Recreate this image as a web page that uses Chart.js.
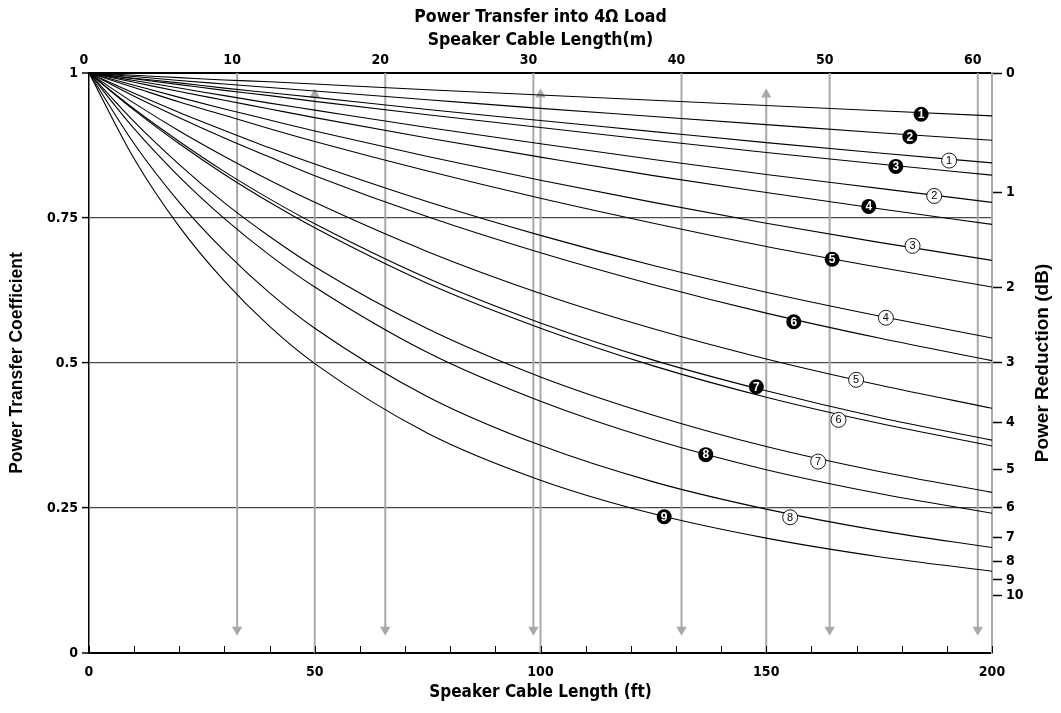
<!DOCTYPE html>
<html><head><meta charset="utf-8">
<script src="https://cdn.jsdelivr.net/npm/chart.js@4.4.0/dist/chart.umd.min.js"></script>
<style>html,body{margin:0;padding:0;background:#fff;}canvas{display:block;}</style>
</head><body>
<canvas id="c" width="1061" height="713"></canvas>
<script>
// ---------- DATA ----------
const ftSamples = [0, 10, 20, 30, 40, 50, 75, 100, 125, 150, 175, 200];
// black (filled) numbered curves
const curveB1 = [1, .996, .992, .988, .985, .981, .971, .962, .953, .944, .935, .926];
const curveB2 = [1, .994, .987, .981, .975, .969, .954, .939, .925, .911, .897, .884];
const curveB3 = [1, .990, .980, .970, .961, .951, .928, .906, .884, .863, .843, .824];
const curveB4 = [1, .984, .968, .953, .938, .923, .888, .855, .823, .794, .766, .739];
const curveB5 = [1, .975, .950, .927, .904, .882, .831, .784, .741, .701, .665, .631];
const curveB6 = [1, .960, .923, .888, .855, .823, .752, .690, .635, .586, .543, .504];
const curveB7 = [1, .938, .882, .830, .783, .740, .646, .569, .505, .452, .406, .367];
const curveB8 = [1, .904, .821, .749, .686, .631, .518, .434, .368, .316, .275, .241];
const curveB9 = [1, .852, .735, .641, .563, .499, .379, .298, .240, .198, .166, .141];
// white (outlined) numbered curves
const curveW1 = [1, .991, .983, .974, .966, .958, .937, .918, .899, .880, .862, .845];
const curveW2 = [1, .987, .974, .961, .948, .936, .906, .878, .851, .825, .801, .777];
const curveW3 = [1, .979, .958, .938, .919, .900, .856, .815, .777, .741, .708, .677];
const curveW4 = [1, .965, .932, .901, .871, .843, .778, .720, .668, .622, .581, .543];
const curveW5 = [1, .948, .900, .856, .815, .777, .692, .620, .559, .507, .462, .422];
const curveW6 = [1, .936, .878, .825, .777, .733, .637, .560, .495, .441, .396, .357];
const curveW7 = [1, .916, .842, .776, .718, .666, .559, .476, .410, .356, .313, .277];
const curveW8 = [1, .878, .777, .693, .621, .560, .442, .358, .295, .248, .211, .182];

// curve markers: number, position along cable (ft), coefficient
const blackMarkNums = ['1', '2', '3', '4', '5', '6', '7', '8', '9'];
const blackMarkFt   = [184.3, 181.8, 178.7, 172.7, 164.6, 156.1, 147.8, 136.6, 127.4];
const blackMarkVal  = [.929, .890, .839, .770, .679, .571, .459, .342, .235];
const whiteMarkNums = ['1', '2', '3', '4', '5', '6', '7', '8'];
const whiteMarkFt   = [190.5, 187.2, 182.4, 176.5, 169.9, 166.0, 161.5, 155.3];
const whiteMarkVal  = [.849, .788, .702, .578, .471, .402, .330, .234];

// axes
const ftTicks = [0, 50, 100, 150, 200];
const ftTickLabels = ['0', '50', '100', '150', '200'];
const ftMinorTicks = [0, 10, 20, 30, 40, 50, 60, 70, 80, 90, 100, 110, 120, 130, 140, 150, 160, 170, 180, 190, 200];
const meterTicks = [0, 10, 20, 30, 40, 50, 60];
const meterTickLabels = ['0', '10', '20', '30', '40', '50', '60'];
const yTicks = [0, 0.25, 0.5, 0.75, 1];
const yTickLabels = ['0', '0.25', '0.5', '0.75', '1'];
const dbTicks = [0, 1, 2, 3, 4, 5, 6, 7, 8, 9, 10];
const dbTickLabels = ['0', '1', '2', '3', '4', '5', '6', '7', '8', '9', '10'];
const meterArrowLines = [10, 20, 30, 40, 50, 60]; // grey lines with down arrows (m)
const footArrowLines = [50, 100, 150];           // grey lines with up arrows (ft)

const FT_MAX = 200;
const M_MAX = 200 * 0.3048; // same span expressed in metres

// ---------- STYLE ----------
const GREY = '#a9a9a9';
const NARROW = "'Liberation Sans Narrow', 'DejaVu Sans Condensed', 'Liberation Sans', Arial, sans-serif";
const WIDE = "'Liberation Sans', Arial, sans-serif";
const DOWN_ARROW_END = 0.04;
const UP_ARROW_END = 0.963;

const curves = [curveB1, curveB2, curveW1, curveB3, curveW2, curveB4, curveW3, curveB5, curveW4,
                curveB6, curveW5, curveB7, curveW6, curveW7, curveB8, curveW8, curveB9];

const datasets = [];
curves.forEach(c => datasets.push({
  data: ftSamples.map((x, i) => ({x, y: c[i]})),
  xAxisID: 'x', yAxisID: 'y',
  borderColor: '#000', borderWidth: 1.1, pointRadius: 0,
  cubicInterpolationMode: 'monotone', fill: false, order: 0
}));
meterArrowLines.forEach(m => datasets.push({
  data: [{x: m, y: 1}, {x: m, y: DOWN_ARROW_END}],
  xAxisID: 'xTop', yAxisID: 'y',
  borderColor: GREY, borderWidth: 2,
  pointRadius: [0, 6], pointStyle: 'triangle', pointRotation: 180,
  pointBackgroundColor: GREY, pointBorderColor: GREY, pointBorderWidth: 0, order: 2
}));
footArrowLines.forEach(f => datasets.push({
  data: [{x: f, y: 0}, {x: f, y: UP_ARROW_END}],
  xAxisID: 'x', yAxisID: 'y',
  borderColor: GREY, borderWidth: 2,
  pointRadius: [0, 6], pointStyle: 'triangle', pointRotation: 0,
  pointBackgroundColor: GREY, pointBorderColor: GREY, pointBorderWidth: 0, order: 2
}));

const decor = {
  id: 'decor',
  afterDatasetsDraw(chart) {
    const {ctx, chartArea: a, scales: {x, y}} = chart;
    ctx.save();
    const r = 7.5;
    blackMarkNums.forEach((n, i) => {
      const px = x.getPixelForValue(blackMarkFt[i]), py = y.getPixelForValue(blackMarkVal[i]);
      ctx.beginPath(); ctx.arc(px, py, r, 0, Math.PI * 2); ctx.fillStyle = '#000'; ctx.fill();
      ctx.fillStyle = '#fff'; ctx.font = 'bold 12px ' + WIDE; ctx.textAlign = 'center'; ctx.textBaseline = 'middle';
      ctx.fillText(n, px, py + 0.5);
    });
    whiteMarkNums.forEach((n, i) => {
      const px = x.getPixelForValue(whiteMarkFt[i]), py = y.getPixelForValue(whiteMarkVal[i]);
      ctx.beginPath(); ctx.arc(px, py, r, 0, Math.PI * 2); ctx.fillStyle = '#fff'; ctx.fill();
      ctx.lineWidth = 0.9; ctx.strokeStyle = '#000'; ctx.stroke();
      ctx.fillStyle = '#000'; ctx.font = '11px ' + WIDE; ctx.textAlign = 'center'; ctx.textBaseline = 'middle';
      ctx.fillText(n, px, py + 0.5);
    });
    ctx.strokeStyle = '#000'; ctx.lineWidth = 1;
    ftMinorTicks.forEach(v => {
      const px = Math.round(x.getPixelForValue(v)) + 0.5;
      ctx.beginPath(); ctx.moveTo(px, a.bottom); ctx.lineTo(px, a.bottom - 7); ctx.stroke();
    });
    ctx.restore();
  },
  afterDraw(chart) {
    const {ctx, chartArea: a} = chart;
    const cx = (a.left + a.right) / 2, cy = (a.top + a.bottom) / 2;
    ctx.save();
    ctx.fillStyle = '#000'; ctx.textAlign = 'center'; ctx.textBaseline = 'middle';
    ctx.font = 'bold 17.5px ' + NARROW;
    ctx.fillText('Power Transfer into 4\u03A9 Load', cx, 17);
    ctx.fillText('Speaker Cable Length(m)', cx, 40);
    ctx.font = 'bold 17px ' + NARROW;
    ctx.fillText('Speaker Cable Length (ft)', cx, 693);
    ctx.font = 'bold 17.5px ' + WIDE;
    ctx.translate(17, cy); ctx.rotate(-Math.PI / 2);
    ctx.fillText('Power Transfer Coefficient', 0, 0);
    ctx.restore();
    ctx.save();
    ctx.fillStyle = '#000'; ctx.textAlign = 'center'; ctx.textBaseline = 'middle';
    ctx.font = 'bold 19px ' + WIDE;
    ctx.translate(1043, cy); ctx.rotate(-Math.PI / 2);
    ctx.fillText('Power Reduction (dB)', 0, 0);
    ctx.restore();
  }
};

const tickFont = {family: NARROW, weight: 'bold', size: 14};

new Chart(document.getElementById('c'), {
  type: 'line',
  data: {datasets},
  plugins: [decor],
  options: {
    responsive: false, animation: false, devicePixelRatio: 1,
    layout: {padding: 0},
    plugins: {legend: {display: false}, tooltip: {enabled: false}, title: {display: false}},
    scales: {
      x: {
        type: 'linear', position: 'bottom', min: 0, max: FT_MAX,
        afterBuildTicks: s => { s.ticks = ftTicks.map(v => ({value: v})); },
        ticks: {callback: (v, i) => ftTickLabels[i], font: tickFont, color: '#000', padding: 11, maxRotation: 0, autoSkip: false},
        grid: {display: false, drawTicks: false},
        border: {display: true, color: '#000', width: 2},
        afterFit: s => { s.height = 60; }
      },
      xTop: {
        type: 'linear', position: 'top', min: 0, max: M_MAX,
        afterBuildTicks: s => { s.ticks = meterTicks.map(v => ({value: v})); },
        ticks: {callback: (v, i) => meterTickLabels[i], font: tickFont, color: '#000', padding: 4, maxRotation: 0, autoSkip: false, labelOffset: -5},
        grid: {display: false, drawTicks: false},
        border: {display: true, color: '#000', width: 2},
        afterFit: s => { s.height = 73; }
      },
      y: {
        type: 'linear', position: 'left', min: 0, max: 1,
        afterBuildTicks: s => { s.ticks = yTicks.map(v => ({value: v})); },
        ticks: {callback: (v, i) => yTickLabels[i], font: tickFont, color: '#000', padding: 4, autoSkip: false},
        grid: {
          color: c => (c.tick && (c.tick.value === 0 || c.tick.value === 1)) ? '#000' : '#4a4a4a',
          lineWidth: c => (c.tick && (c.tick.value === 0 || c.tick.value === 1)) ? 2 : 1.2,
          tickColor: '#000', tickLength: 7, tickWidth: 1.5
        },
        border: {display: true, color: '#000', width: 1.5},
        afterFit: s => { s.width = 89; }
      },
      y2: {
        type: 'linear', position: 'right', min: 0, max: 1,
        afterBuildTicks: s => { s.ticks = dbTicks.map(d => ({value: Math.pow(10, -d / 10)})); },
        ticks: {callback: (v, i) => dbTickLabels[i], font: tickFont, color: '#000', padding: 4, autoSkip: false},
        grid: {display: true, drawOnChartArea: false, tickColor: '#000', tickLength: 10, tickWidth: 1.5},
        border: {display: true, color: GREY, width: 2},
        afterFit: s => { s.width = 69; }
      }
    }
  }
});
</script>
</body></html>
